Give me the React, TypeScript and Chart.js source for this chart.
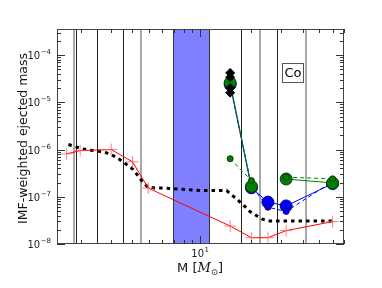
import React, { useEffect, useRef } from "react";
import { Chart, registerables } from "chart.js";

Chart.register(...registerables);

// ---- data ----
const redMass = [1.64, 1.97, 3.0, 4.0, 4.95, 15, 20, 25, 32, 60];
const redVal = [8.1e-7, 9.5e-7, 1.0e-6, 5.5e-7, 1.53e-7, 2.4e-8, 1.36e-8, 1.36e-8, 1.92e-8, 2.98e-8];

const imfMass = [1.68, 1.86, 2.05, 2.28, 2.54, 2.82, 3.08, 3.38, 3.7, 4.01, 4.29, 4.56, 4.91, 5.42, 6.04, 10, 14.3, 16.4, 17.9, 19.6, 23.0, 25.1, 59.3];
const imfVal = [1.28e-6, 1.14e-6, 1.03e-6, 9.67e-7, 9.2e-7, 8.5e-7, 7.45e-7, 6.1e-7, 4.8e-7, 3.88e-7, 2.84e-7, 2.12e-7, 1.61e-7, 1.53e-7, 1.53e-7, 1.36e-7, 1.35e-7, 8.9e-8, 6.76e-8, 4.87e-8, 3.4e-8, 3.08e-8, 3.08e-8];

const modelMass = [15, 20, 25, 32, 60];
const blueLarge = [2.4e-5, 1.55e-7, 7.7e-8, 6.4e-8, 1.9e-7];
const blueSmall = [2.3e-5, 1.7e-7, 6.0e-8, 4.9e-8, 2.1e-7];
const greenLarge = [2.6e-5, 1.66e-7, null, 2.38e-7, 1.96e-7];
const greenSmall = [6.4e-7, 2.2e-7, null, 2.6e-7, 2.4e-7];

const diamondMass = [15, 15, 15, 15];
const diamondVal = [4.2e-5, 3.4e-5, 2.0e-5, 1.6e-5];

const grayLines = [1.81, 4.49, 22.4, 41.7];
const blackLines = [1.855, 2.48, 3.5, 17.4, 28.4];
const bandRange = [6.95, 11.4];

const xMin = 1.44;
const xMax = 70;
const yMin = 1e-8;
const yMax = 3.57e-4;
const yDecades = [-8, -7, -6, -5, -4];
const xMajor = [10];
const elementLabel = "Co";

const FONT = "'DejaVu Sans', sans-serif";

function pts(xs: number[], ys: (number | null)[]) {
  return xs.map((m, i) => ({ x: m, y: ys[i] }));
}

function drawPow(ctx: CanvasRenderingContext2D, exp: string, x: number, y: number, align: "right" | "center") {
  ctx.font = `10px ${FONT}`;
  const wb = ctx.measureText("10").width;
  ctx.font = `7px ${FONT}`;
  const we = ctx.measureText(exp).width;
  const total = wb + we + 0.5;
  let left = align === "right" ? x - total : x - total / 2;
  ctx.textAlign = "left";
  ctx.textBaseline = "alphabetic";
  ctx.fillStyle = "#222";
  ctx.font = `10px ${FONT}`;
  ctx.fillText("10", left, y);
  ctx.font = `7px ${FONT}`;
  ctx.fillText(exp, left + wb + 0.5, y - 5);
}

const decorPlugin = {
  id: "decor",
  beforeDatasetsDraw(chart: any) {
    const { ctx, chartArea: a, scales } = chart;
    const xs = scales.x;
    ctx.save();
    const x0 = xs.getPixelForValue(bandRange[0]);
    const x1 = xs.getPixelForValue(bandRange[1]);
    ctx.fillStyle = "#8080ff";
    ctx.fillRect(x0, a.top, x1 - x0, a.bottom - a.top);
    ctx.strokeStyle = "#303050";
    ctx.lineWidth = 1;
    ctx.beginPath();
    ctx.moveTo(Math.round(x0) + 0.5, a.top);
    ctx.lineTo(Math.round(x0) + 0.5, a.bottom);
    ctx.moveTo(Math.round(x1) - 0.5, a.top);
    ctx.lineTo(Math.round(x1) - 0.5, a.bottom);
    ctx.stroke();

    ctx.strokeStyle = "#a8a8a8";
    ctx.lineWidth = 2;
    for (const m of grayLines) {
      const px = Math.round(xs.getPixelForValue(m));
      ctx.beginPath();
      ctx.moveTo(px, a.top);
      ctx.lineTo(px, a.bottom);
      ctx.stroke();
    }
    ctx.strokeStyle = "#222";
    ctx.lineWidth = 1;
    for (const m of blackLines) {
      const px = Math.round(xs.getPixelForValue(m)) + 0.5;
      ctx.beginPath();
      ctx.moveTo(px, a.top);
      ctx.lineTo(px, a.bottom);
      ctx.stroke();
    }
    ctx.restore();
  },
  afterDatasetsDraw(chart: any) {
    const { ctx, chartArea: a, scales } = chart;
    const xs = scales.x;
    const ys = scales.y;
    ctx.save();
    // frame
    ctx.strokeStyle = "#444";
    ctx.lineWidth = 1;
    ctx.strokeRect(Math.round(a.left) + 0.5, Math.round(a.top) + 0.5, Math.round(a.right - a.left) - 1, Math.round(a.bottom - a.top) - 1);

    ctx.strokeStyle = "#333";
    // x ticks
    const xTick = (m: number, len: number) => {
      const px = Math.round(xs.getPixelForValue(m)) + 0.5;
      ctx.beginPath();
      ctx.moveTo(px, a.bottom);
      ctx.lineTo(px, a.bottom - len);
      ctx.moveTo(px, a.top);
      ctx.lineTo(px, a.top + len);
      ctx.stroke();
    };
    for (let d = 1; d <= 10; d *= 10) {
      for (let k = 1; k <= 9; k++) {
        const m = k * d;
        if (m < xMin || m > xMax) continue;
        xTick(m, k === 1 ? 8 : 4);
      }
    }
    // y ticks
    const yTick = (v: number, len: number) => {
      const py = Math.round(ys.getPixelForValue(v)) + 0.5;
      ctx.beginPath();
      ctx.moveTo(a.left, py);
      ctx.lineTo(a.left + len, py);
      ctx.moveTo(a.right, py);
      ctx.lineTo(a.right - len, py);
      ctx.stroke();
    };
    for (let e = -8; e <= -4; e++) {
      for (let k = 1; k <= 9; k++) {
        const v = k * Math.pow(10, e);
        if (v < yMin * 0.999 || v > yMax) continue;
        yTick(v, k === 1 ? 8 : 4);
      }
    }
    // tick labels
    for (const e of yDecades) {
      const py = ys.getPixelForValue(Math.pow(10, e));
      drawPow(ctx, "\u2212" + String(-e), a.left - 6, py + 4, "right");
    }
    for (const m of xMajor) {
      const px = xs.getPixelForValue(m);
      drawPow(ctx, String(Math.round(Math.log10(m))), px, a.bottom + 13, "center");
    }
    // y title
    ctx.save();
    ctx.translate(24, (a.top + a.bottom) / 2 + 2);
    ctx.rotate(-Math.PI / 2);
    ctx.font = `12.5px ${FONT}`;
    ctx.fillStyle = "#111";
    ctx.textAlign = "center";
    ctx.textBaseline = "middle";
    ctx.fillText("IMF-weighted ejected mass", 0, 0);
    ctx.restore();
    // x title: M [M_sun]
    const base = a.bottom + 28;
    ctx.fillStyle = "#111";
    ctx.textBaseline = "alphabetic";
    ctx.textAlign = "left";
    const parts: [string, string, number][] = [
      ["M [", `13px ${FONT}`, 0],
      ["M", `italic 13px 'DejaVu Serif', serif`, 0],
      ["\u2299", `8.5px ${FONT}`, 3],
      ["]", `13px ${FONT}`, 0],
    ];
    let total = 0;
    for (const [t, f] of parts) {
      ctx.font = f;
      total += ctx.measureText(t).width;
    }
    let cx = 200 - total / 2;
    for (const [t, f, dy] of parts) {
      ctx.font = f;
      ctx.fillText(t, cx, base + dy);
      cx += ctx.measureText(t).width;
    }
    // Co box
    ctx.font = `13px ${FONT}`;
    const bx = 282, by = 63.5, bw = 21, bh = 19;
    ctx.fillStyle = "#fff";
    ctx.fillRect(bx, by, bw, bh);
    ctx.strokeStyle = "#555";
    ctx.lineWidth = 1;
    ctx.strokeRect(bx + 0.5, by, bw, bh);
    ctx.fillStyle = "#000";
    ctx.textAlign = "center";
    ctx.textBaseline = "middle";
    ctx.fillText(elementLabel, bx + bw / 2 + 0.5, by + bh / 2 + 0.5);
    ctx.restore();
  },
};

export default function App() {
  const ref = useRef<HTMLCanvasElement | null>(null);
  useEffect(() => {
    if (!ref.current) return;
    const chart = new Chart(ref.current, {
      type: "line",
      data: {
        datasets: [
          {
            label: "diamonds",
            data: pts(diamondMass, diamondVal),
            showLine: false,
            pointStyle: "rectRot",
            pointRadius: 4.5,
            pointBackgroundColor: "#000",
            pointBorderColor: "#000",
            pointBorderWidth: 1,
            order: 0,
          },
          {
            label: "greenSmall",
            data: pts(modelMass, greenSmall),
            borderColor: "#008000",
            borderWidth: 1,
            borderDash: [4, 3],
            pointRadius: 3,
            pointBackgroundColor: "#008000",
            pointBorderColor: "#003a00",
            pointBorderWidth: 1,
            spanGaps: false,
            order: 1,
          },
          {
            label: "greenLarge",
            data: pts(modelMass, greenLarge),
            borderColor: "#008000",
            borderWidth: 1,
            pointRadius: 6,
            pointBackgroundColor: "#008000",
            pointBorderColor: "#003a00",
            pointBorderWidth: 1,
            spanGaps: false,
            order: 2,
          },
          {
            label: "blueSmall",
            data: pts(modelMass, blueSmall),
            borderColor: "#0000ff",
            borderWidth: 1,
            borderDash: [4, 3],
            pointRadius: 3,
            pointBackgroundColor: "#0000ff",
            pointBorderColor: "#00007a",
            pointBorderWidth: 1,
            order: 3,
          },
          {
            label: "blueLarge",
            data: pts(modelMass, blueLarge),
            borderColor: "#0000ff",
            borderWidth: 1,
            pointRadius: 6,
            pointBackgroundColor: "#0000ff",
            pointBorderColor: "#00007a",
            pointBorderWidth: 1,
            order: 4,
          },
          {
            label: "red",
            data: pts(redMass, redVal),
            borderColor: "#ff0000",
            borderWidth: 1,
            pointStyle: "cross",
            pointRadius: 6,
            pointBorderColor: "rgba(255,90,90,0.75)",
            pointBorderWidth: 1,
            order: 5,
          },
          {
            label: "imf",
            data: pts(imfMass, imfVal),
            borderColor: "#000",
            borderWidth: 3,
            borderDash: [3.5, 4],
            borderCapStyle: "butt",
            pointRadius: 0,
            order: 6,
          },
        ],
      },
      options: {
        animation: false,
        responsive: false,
        devicePixelRatio: 1,
        layout: { padding: { left: 57, right: 38, top: 29, bottom: 44 } },
        plugins: { legend: { display: false }, tooltip: { enabled: false } },
        elements: { line: { tension: 0 } },
        scales: {
          x: { type: "logarithmic", min: xMin, max: xMax, display: false },
          y: { type: "logarithmic", min: yMin, max: yMax, display: false },
        },
      },
      plugins: [decorPlugin],
    } as any);
    return () => chart.destroy();
  }, []);
  return (
    <div style={{ position: "absolute", left: 0, top: 0, width: 382, height: 288, background: "#fff" }}>
      <canvas ref={ref} width={382} height={288} style={{ display: "block" }} />
    </div>
  );
}
